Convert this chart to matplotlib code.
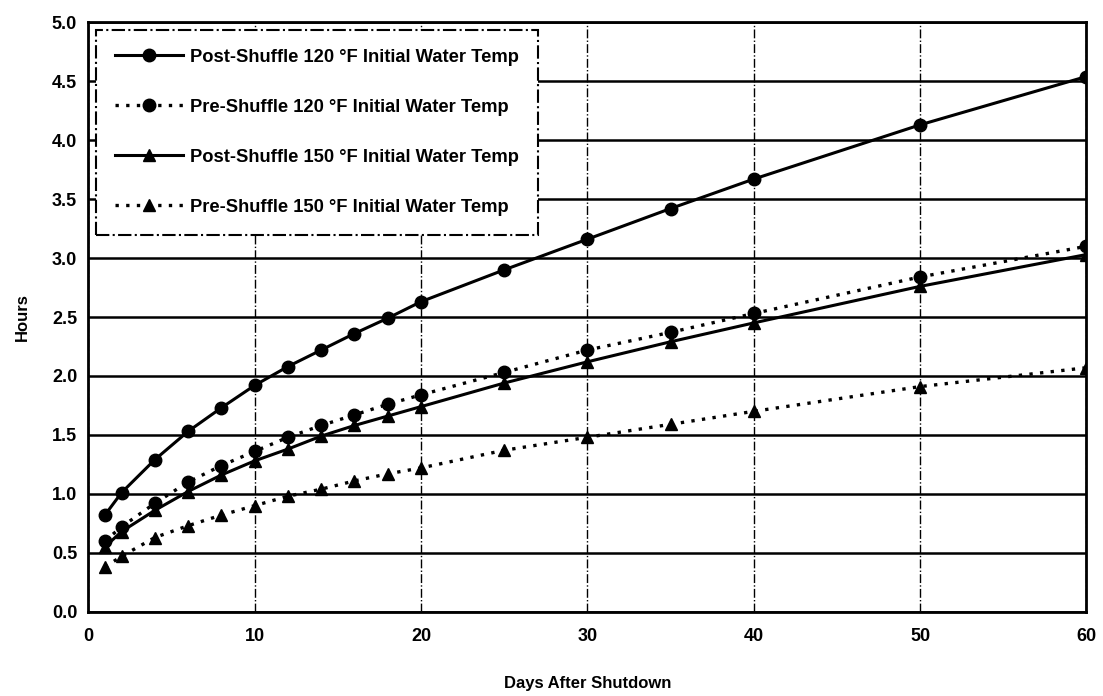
import numpy as np
import matplotlib
matplotlib.use('Agg')
import matplotlib.pyplot as plt

# days after shutdown
days = [1, 2, 4, 6, 8, 10, 12, 14, 16, 18, 20, 25, 30, 35, 40, 50, 60]

# hours for each case
post_120 = [0.82, 1.01, 1.29, 1.53, 1.73, 1.92, 2.08, 2.22, 2.36, 2.49, 2.63, 2.90, 3.16, 3.42, 3.67, 4.13, 4.54]
pre_120 = [0.60, 0.72, 0.92, 1.10, 1.24, 1.36, 1.48, 1.58, 1.67, 1.76, 1.84, 2.03, 2.22, 2.37, 2.53, 2.84, 3.10]
post_150 = [0.55, 0.68, 0.86, 1.02, 1.16, 1.28, 1.38, 1.49, 1.58, 1.66, 1.74, 1.94, 2.12, 2.29, 2.45, 2.76, 3.03]
pre_150 = [0.38, 0.47, 0.63, 0.73, 0.82, 0.90, 0.98, 1.04, 1.11, 1.17, 1.22, 1.37, 1.48, 1.59, 1.70, 1.91, 2.07]

labels = ['Post-Shuffle 120 \u00b0F Initial Water Temp',
          'Pre-Shuffle 120 \u00b0F Initial Water Temp',
          'Post-Shuffle 150 \u00b0F Initial Water Temp',
          'Pre-Shuffle 150 \u00b0F Initial Water Temp']

plt.rcParams['font.family'] = ['Liberation Sans', 'DejaVu Sans']
plt.rcParams['font.weight'] = 'bold'

fig = plt.figure(figsize=(11.03, 6.96), dpi=100)
ax = fig.add_axes([0.08, 0.121, 0.905, 0.847])

dotted = (0, (1, 2.2))
ax.plot(days, post_120, color='black', lw=2.2, marker='o', ms=9, label=labels[0])
ax.plot(days, pre_120, color='black', lw=2.4, ls=dotted, marker='o', ms=9, label=labels[1])
ax.plot(days, post_150, color='black', lw=2.2, marker='^', ms=9, label=labels[2])
ax.plot(days, pre_150, color='black', lw=2.4, ls=dotted, marker='^', ms=9, label=labels[3])

ax.set_xlim(0, 60)
ax.set_ylim(0, 5.0)
ax.set_xticks(np.arange(0, 61, 10))
ax.set_yticks(np.arange(0, 5.01, 0.5))
ax.set_yticklabels(['%.1f' % v for v in np.arange(0, 5.01, 0.5)])

# grid: solid horizontal, dash-dot vertical
ax.yaxis.grid(True, color='black', lw=1.8, ls='-')
ax.xaxis.grid(True, color='black', lw=1.0, ls='-.')
ax.set_axisbelow(True)

for s in ax.spines.values():
    s.set_linewidth(2.0)

ax.tick_params(axis='both', labelsize=13, length=0, pad=8)
ax.tick_params(axis='x', pad=12)

ax.set_xlabel('Days After Shutdown', fontsize=12, fontweight='bold', labelpad=22)
ax.set_ylabel('Hours', fontsize=12, fontweight='bold', labelpad=16)

leg = ax.legend(loc='upper left', fontsize=13.2, handlelength=3.7, handletextpad=0.4,
                labelspacing=1.8, borderpad=1.05, borderaxespad=0.4, fancybox=False,
                edgecolor='black', framealpha=1)
leg.get_frame().set_linewidth(1.5)
leg.get_frame().set_linestyle('-.')

fig.savefig('out.png', dpi=100)
